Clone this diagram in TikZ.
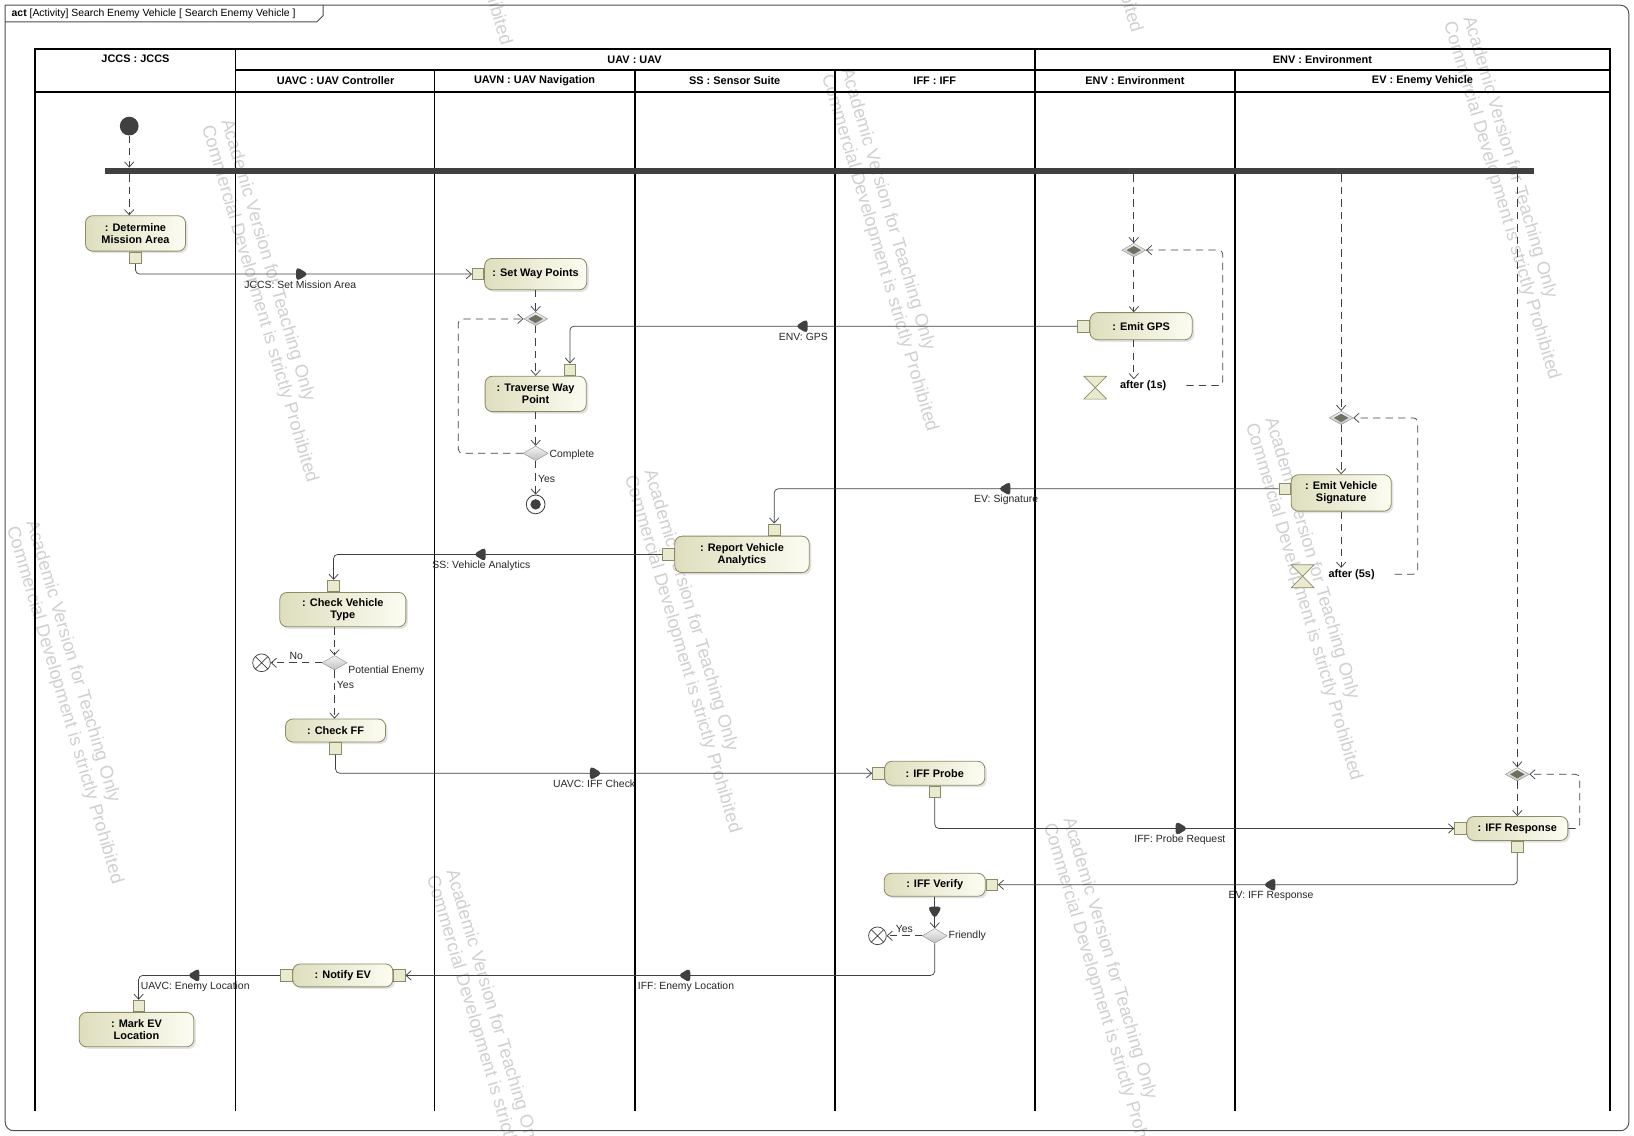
\documentclass[tikz,border=0pt]{standalone}
\usepackage{fontspec}
\setmainfont{Liberation Sans}
\usetikzlibrary{shapes.geometric, arrows.meta, positioning, calc, shadows}

\definecolor{actborder}{RGB}{140,140,100}
\definecolor{actleft}{RGB}{222,222,190}
\definecolor{actright}{RGB}{252,252,242}
\definecolor{pinfill}{RGB}{234,234,208}
\definecolor{flowgray}{RGB}{64,64,64}
\definecolor{forkgray}{RGB}{64,64,64}
\definecolor{mergedark}{RGB}{112,112,96}
\definecolor{markgray}{RGB}{208,208,208}

\tikzset{
    lane/.style={line width=1.8pt, black, line cap=rect},
    lanehead/.style={font=\bfseries\fontsize{10.5}{12}\selectfont, inner sep=1pt},
    frame/.style={draw=black!70, line width=0.9pt},
    action/.style={rectangle, rounded corners=7pt, draw=actborder, line width=0.8pt,
        left color=actleft, right color=actright,
        drop shadow={shadow xshift=2pt, shadow yshift=-2pt, fill=black!22},
        font=\bfseries\fontsize{10.5}{11.5}\selectfont, align=center, inner sep=2pt,
        minimum width=96pt, minimum height=23pt},
    pinbox/.style={rectangle, draw=actborder, line width=0.7pt, fill=pinfill, minimum size=11pt, inner sep=0pt},
    decision/.style={diamond, draw=black!45, top color=black!4, bottom color=black!25,
        minimum width=24pt, minimum height=14pt, inner sep=0pt},
    merge/.style={decision, minimum width=23pt, minimum height=13pt,
        path picture={\fill[mergedark] (path picture bounding box.center) +(-7,0) -- +(0,4) -- +(7,0) -- +(0,-4) -- cycle;}},
    initial/.style={circle, fill=forkgray, minimum size=18pt, inner sep=0pt},
    afinal/.style={circle, draw=flowgray, fill=white, line width=0.8pt, minimum size=18pt, inner sep=0pt,
        path picture={\fill[forkgray] (path picture bounding box.center) circle (5pt);}},
    ffinal/.style={circle, draw=flowgray, fill=white, line width=0.7pt, minimum size=17pt, inner sep=0pt,
        path picture={\draw[flowgray, line width=0.7pt] (path picture bounding box.north west) -- (path picture bounding box.south east)
            (path picture bounding box.north east) -- (path picture bounding box.south west);}},
    forkbar/.style={rectangle, fill=forkgray, minimum height=6pt, inner sep=0pt},
    hglass/.style={draw=actborder, fill=pinfill, line width=0.7pt, line join=round},
    timelbl/.style={font=\bfseries\fontsize{10.5}{12}\selectfont, inner sep=1pt},
    lbl/.style={font=\fontsize{10}{12}\selectfont, text=black!85, inner sep=1pt},
    ctrl/.style={draw=flowgray, line width=0.7pt, dash pattern=on 7pt off 5pt, rounded corners=4pt,
        -{Straight Barb[length=5pt, width=9pt]}},
    obj/.style={draw=flowgray, line width=0.7pt, rounded corners=4pt,
        -{Straight Barb[length=5pt, width=9pt]}},
    midtri/.style={isosceles triangle, isosceles triangle apex angle=62, fill=forkgray, draw=none,
        inner sep=0pt, minimum width=12pt, minimum height=12pt, sloped, allow upside down},
    wmark/.style={text=markgray, font=\fontsize{17.5}{19.5}\selectfont, align=left, rotate=-73.5, inner sep=0pt}
}

\begin{document}
\begin{tikzpicture}[x=1pt, y=-1pt]
    \useasboundingbox (0,0) rectangle (1568,1090);

    % watermarks
    \foreach \wx/\wy [count=\i] in {258/289, 853/240, 664/625, 71/674, 1260/575, 1450/190, 1066/959, 474/1009, 444/-131, 1049/-143}
        \node[wmark] (wm\i) at (\wx,\wy) {Academic Version for Teaching Only\\Commercial Development is strictly Prohibited};

    % frame and title
    \draw[frame, rounded corners=8pt] (5,5) -- (1563,5) -- (1563,1085) -- (5,1085) -- (5,5);
    \draw[frame] (5,21) -- (304,21) -- (310,15) -- (310,5);
    \node[anchor=west, font=\fontsize{10}{12}\selectfont, inner sep=0pt] (title) at (11,13.5)
        {\textbf{act} [Activity] Search Enemy Vehicle [ Search Enemy Vehicle ]};

    % partitions
    \foreach \x in {34,226,993,1545} \draw[lane] (\x,47) -- (\x,1065);
    \foreach \x in {417,609,801,1185} \draw[lane] (\x,67) -- (\x,1065);
    \draw[lane] (34,47) -- (1545,47);
    \draw[lane] (226,67) -- (1545,67);
    \draw[lane] (34,88) -- (1545,88);

    \node[lanehead] (hJCCS) at (130,56) {JCCS : JCCS};
    \node[lanehead] (hUAV) at (609,57) {UAV : UAV};
    \node[lanehead] (hENVtop) at (1269,57) {ENV : Environment};
    \node[lanehead] (hUAVC) at (322,77) {UAVC : UAV Controller};
    \node[lanehead] (hUAVN) at (513,77) {UAVN : UAV Navigation};
    \node[lanehead] (hSS) at (705,77) {SS : Sensor Suite};
    \node[lanehead] (hIFF) at (897,77) {IFF : IFF};
    \node[lanehead] (hENV) at (1089,77) {ENV : Environment};
    \node[lanehead] (hEV) at (1365,77) {EV : Enemy Vehicle};

    % start and fork
    \node[initial] (init) at (124,121) {};
    \node[forkbar, minimum width=1371pt] (fork) at (786.5,164) {};

    % actions
    \node[action, minimum height=34pt] (dma) at (130,224) {: Determine\\Mission Area};
    \node[action, minimum width=98pt, minimum height=30pt] (sw) at (514,263) {: Set Way Points};
    \node[action, minimum width=97pt, minimum height=34pt] (tw) at (514,378) {: Traverse Way\\Point};
    \node[action, minimum width=98pt, minimum height=26pt] (egps) at (1095,313) {: Emit GPS};
    \node[action, minimum height=35pt] (evs) at (1287,473) {: Emit Vehicle\\Signature};
    \node[action, minimum width=129pt, minimum height=35pt] (rva) at (712,532) {: Report Vehicle\\Analytics};
    \node[action, minimum width=121pt, minimum height=33pt] (cvt) at (329,585) {: Check Vehicle\\Type};
    \node[action, minimum height=22pt] (cff) at (322,701) {: Check FF};
    \node[action] (ifp) at (897,742) {: IFF Probe};
    \node[action, minimum width=97pt] (ifr) at (1456,795) {: IFF Response};
    \node[action, minimum width=97pt, minimum height=22pt] (ifv) at (897,849) {: IFF Verify};
    \node[action, minimum height=22pt] (nev) at (329,936) {: Notify EV};
    \node[action, minimum width=110pt, minimum height=33pt] (mev) at (131,988) {: Mark EV\\Location};

    % pins
    \node[pinbox, below=0pt of dma] (dmaOut) {};
    \node[pinbox, left=0pt of sw] (swIn) {};
    \node[pinbox, above=0pt of tw.north east, xshift=-16pt] (twIn) {};
    \node[pinbox, left=0pt of egps] (egpsIn) {};
    \node[pinbox, left=0pt of evs, yshift=4pt] (evsIn) {};
    \node[pinbox, above=0pt of rva.north east, xshift=-34pt] (rvaIn) {};
    \node[pinbox, left=0pt of rva] (rvaOut) {};
    \node[pinbox, above=0pt of cvt.north west, xshift=52pt] (cvtIn) {};
    \node[pinbox, below=0pt of cff] (cffOut) {};
    \node[pinbox, left=0pt of ifp] (ifpIn) {};
    \node[pinbox, below=0pt of ifp] (ifpOut) {};
    \node[pinbox, left=0pt of ifr] (ifrIn) {};
    \node[pinbox, below=0pt of ifr] (ifrOut) {};
    \node[pinbox, right=0pt of ifv] (ifvIn) {};
    \node[pinbox, left=0pt of nev] (nevOut) {};
    \node[pinbox, right=0pt of nev] (nevIn) {};
    \node[pinbox, above=0pt of mev.north, xshift=2pt] (mevIn) {};

    % merges, decisions, finals
    \node[merge] (m0) at (514,306) {};
    \node[merge] (m1) at (1088,240) {};
    \node[merge] (m2) at (1287,401) {};
    \node[merge] (m3) at (1456,743) {};
    \node[decision] (d1) at (514,435) {};
    \node[decision] (d2) at (321,636) {};
    \node[decision] (d3) at (897,898) {};
    \node[afinal] (fin) at (514,484) {};
    \node[ffinal] (ff1) at (251,636) {};
    \node[ffinal] (ff2) at (842,898) {};
    \node[lbl, anchor=west] (d1lbl) at ([yshift=-1pt]d1.east) {Complete};
    \node[lbl, anchor=north west, yshift=-2pt] (d2lbl) at (d2.east) {Potential Enemy};
    \node[lbl, anchor=west] (d3lbl) at (d3.east) {Friendly};

    % time events
    \coordinate (t1) at (1051,372);
    \coordinate (t2) at (1250,553);
    \filldraw[hglass, shift={(t1)}] (-11,-11) -- (11,-11) -- (-11,11) -- (11,11) -- cycle;
    \filldraw[hglass, shift={(t2)}] (-11,-11) -- (11,-11) -- (-11,11) -- (11,11) -- cycle;
    \node[timelbl] (t1lbl) at (1097,370) {after (1s)};
    \node[timelbl] (t2lbl) at (1297,551) {after (5s)};

    % control flows
    \draw[ctrl] (init) -- (init |- fork.north);
    \draw[ctrl] (fork.south -| init) -- (init |- dma.north);
    \draw[ctrl] (fork.south -| m1) -- (m1.north);
    \draw[ctrl] (fork.south -| m2) -- (m2.north);
    \draw[ctrl] (fork.south -| m3) -- (m3.north);

    \draw[ctrl] (sw) -- (m0);
    \draw[ctrl] (m0) -- (m0 |- tw.north);
    \draw[ctrl] (m0 |- tw.south) -- (d1);
    \draw[ctrl] (d1.west) -- ++(-62,0) |- (m0.west);
    \draw[ctrl] (d1) -- node[lbl, right=1pt, pos=.55] {Yes} (fin);

    \draw[ctrl] (m1) -- (m1 |- egps.north);
    \draw[ctrl] (m1 |- egps.south) -- (m1 |- t1lbl.north);
    \draw[ctrl] (t1lbl.east) ++(18,0) -- ++(35,0) |- (m1.east);

    \draw[ctrl] (m2) -- (m2 |- evs.north);
    \draw[ctrl] (m2 |- evs.south) -- (m2 |- t2lbl.north);
    \draw[ctrl] (t2lbl.east) ++(18,0) -- ++(22,0) |- (m2.east);

    \draw[ctrl] (m3) -- (m3 |- ifr.north);
    \draw[ctrl] (ifr.east) -- ++(11,0) |- (m3.east);

    \draw[ctrl] (d2 |- cvt.south) -- (d2);
    \draw[ctrl] (d2) -- node[lbl, above=2pt] {No} (ff1);
    \draw[ctrl] (d2) -- node[lbl, right=1pt, pos=.3] {Yes} (d2 |- cff.north);
    \draw[ctrl] (d3) -- node[lbl, above=2pt] {Yes} (ff2);

    % object flows
    \draw[obj] (dmaOut) |- node[midtri, pos=.745] {} node[lbl, below=5pt, pos=.745] {JCCS: Set Mission Area} (swIn);
    \draw[obj] (egpsIn) -| node[midtri, pos=.27] {} node[lbl, below=5pt, pos=.27] {ENV: GPS} (twIn);
    \draw[obj] (evsIn) -| node[midtri, pos=.27] {} node[lbl, below=5pt, pos=.27] {EV: Signature} (rvaIn);
    \draw[obj] (rvaOut) -| node[midtri, pos=.275] {} node[lbl, below=5pt, pos=.275] {SS: Vehicle Analytics} (cvtIn);
    \draw[obj] (cffOut) |- node[midtri, pos=.741] {} node[lbl, below=5pt, pos=.741] {UAVC: IFF Check} (ifpIn);
    \draw[obj] (ifpOut) |- node[midtri, pos=.736] {} node[lbl, below=5pt, pos=.736] {IFF: Probe Request} (ifrIn);
    \draw[obj] (ifrOut) |- node[midtri, pos=.737] {} node[lbl, below=5pt, pos=.737] {EV: IFF Response} (ifvIn);
    \draw[obj] (ifv) -- node[midtri, pos=.45] {} (d3);
    \draw[obj] (d3) |- node[midtri, pos=.735] {} node[lbl, below=5pt, pos=.735] {IFF: Enemy Location} (nevIn);
    \draw[obj] (nevOut) -| node[midtri, pos=.3] {} node[lbl, below=5pt, pos=.3] {UAVC: Enemy Location} (mevIn);
\end{tikzpicture}
\end{document}
